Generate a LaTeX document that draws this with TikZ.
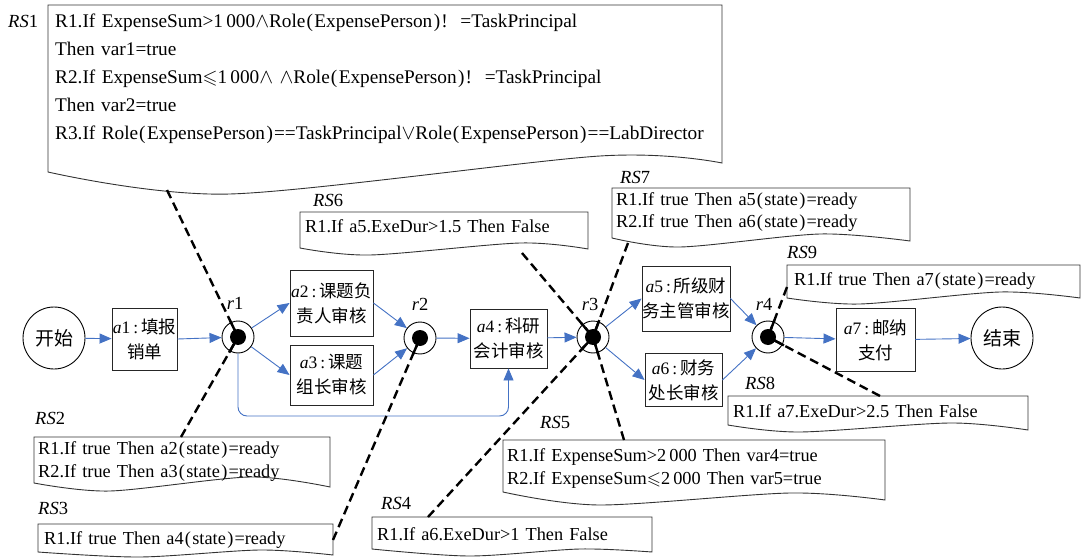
\documentclass[tikz,border=0pt]{standalone}
\usepackage{amssymb}
\usepackage{fontspec}
\setmainfont{Liberation Serif}
\newfontfamily\cjk{Noto Sans CJK SC}
\usetikzlibrary{arrows.meta,calc}
\definecolor{flowblue}{RGB}{68,114,196}
\newcommand{\lp}{\kern1pt(\kern1.5pt}
\newcommand{\rp}{\kern1.5pt)\kern1pt}
\newcommand{\zh}[1]{{\cjk #1}}
\newcommand{\wsp}{\spaceskip=0.33em plus 0.1em\relax}
\tikzset{
  rstext/.style={anchor=base west, inner sep=0pt, font=\fontsize{18.3}{23}\selectfont\wsp},
  rsbig/.style={anchor=base west, inner sep=0pt, font=\fontsize{19.3}{28}\selectfont\wsp},
  rslabel/.style={anchor=base west, inner sep=0pt, font=\fontsize{18.5}{20}\selectfont},
  rsshape/.style={draw=black!80, line width=0.9pt},
  act/.style={draw=black!85, line width=0.9pt, inner sep=0pt, align=center, font=\fontsize{17.5}{25}\selectfont},
  flow/.style={draw=flowblue, line width=0.9pt, -{Triangle[length=12pt,width=10pt]}},
  link/.style={draw=black, line width=2.4pt, dash pattern=on 9pt off 5pt},
  linkstub/.style={draw=black, line width=2.4pt},
  place/.style={circle, draw=black, fill=white, line width=0.9pt, minimum size=32pt, inner sep=0pt},
  dotmark/.style={circle, fill=black, minimum size=16pt, inner sep=0pt},
  term/.style={circle, draw=black, line width=0.9pt, minimum size=62pt, inner sep=0pt, font=\cjk\fontsize{19}{22}\selectfont},
  rlab/.style={inner sep=0pt, font=\fontsize{18.5}{20}\selectfont},
}
\begin{document}
\begin{tikzpicture}[x=1pt,y=-1pt]
\useasboundingbox (0,0) rectangle (1082,559);

% ---------- rule-set shapes ----------
\draw[rsshape] (48,5) -- (722,5) -- plot[smooth] coordinates {(722,163) (600,156) (230,194) (48,172)} -- cycle;
\draw[rsshape] (300,212) -- (588,212) -- plot[smooth] coordinates {(588,249) (520,243) (370,255) (300,248)} -- cycle;
\draw[rsshape] (612,188) -- (910,188) -- plot[smooth] coordinates {(910,241) (820,234) (680,247) (612,238)} -- cycle;
\draw[rsshape] (787,265) -- (1080,265) -- plot[smooth] coordinates {(1080,298) (1000,292) (860,304) (787,298)} -- cycle;
\draw[rsshape] (728,396) -- (1028,396) -- plot[smooth] coordinates {(1028,430) (950,423) (800,432) (728,425)} -- cycle;
\draw[rsshape] (34,437) -- (330,437) -- plot[smooth] coordinates {(330,487) (250,477) (110,491) (34,483)} -- cycle;
\draw[rsshape] (38,524) -- (333,524) -- plot[smooth] coordinates {(333,555) (260,550) (140,557) (38,552)} -- cycle;
\draw[rsshape] (372,517) -- (652,517) -- plot[smooth] coordinates {(652,552) (580,549) (470,556) (372,549)} -- cycle;
\draw[rsshape] (503,440) -- (885,440) -- plot[smooth] coordinates {(885,500) (790,493) (600,505) (503,492)} -- cycle;

% ---------- rule-set labels ----------
\node[rslabel] (l1) at (8,28) {\textit{RS}1};
\node[rslabel] (l2) at (35,424) {\textit{RS}2};
\node[rslabel] (l3) at (38,514) {\textit{RS}3};
\node[rslabel] (l4) at (381,509) {\textit{RS}4};
\node[rslabel] (l5) at (540,428) {\textit{RS}5};
\node[rslabel] (l6) at (313,206) {\textit{RS}6};
\node[rslabel] (l7) at (620,183) {\textit{RS}7};
\node[rslabel] (l8) at (745,389) {\textit{RS}8};
\node[rslabel] (l9) at (787,258) {\textit{RS}9};

% ---------- rule texts ----------
\node[rsbig] (t1a) at (55,28) {R1.If ExpenseSum>1\,000$\wedge$Role\lp ExpensePerson\rp!\ \ =TaskPrincipal};
\node[rsbig] (t1b) at (55,56) {Then var1=true};
\node[rsbig] (t1c) at (55,84) {R2.If ExpenseSum$\leqslant$1\,000$\wedge$\ $\wedge$Role\lp ExpensePerson\rp!\ \ =TaskPrincipal};
\node[rsbig] (t1d) at (55,112) {Then var2=true};
\node[rsbig] (t1e) at (55,140) {R3.If Role\lp ExpensePerson\rp==TaskPrincipal$\vee$Role\lp ExpensePerson\rp==LabDirector};
\node[rstext] (t6) at (305,233) {R1.If a5.ExeDur>1.5 Then False};
\node[rstext] (t7a) at (616,205) {R1.If true Then a5\lp state\rp=ready};
\node[rstext] (t7b) at (616,227) {R2.If true Then a6\lp state\rp=ready};
\node[rstext] (t9) at (794,285) {R1.If true Then a7\lp state\rp=ready};
\node[rstext] (t8) at (733,417) {R1.If a7.ExeDur>2.5 Then False};
\node[rstext] (t2a) at (38,454) {R1.If true Then a2\lp state\rp=ready};
\node[rstext] (t2b) at (38,477) {R2.If true Then a3\lp state\rp=ready};
\node[rstext] (t3) at (44,544) {R1.If true Then a4\lp state\rp=ready};
\node[rstext] (t4) at (377,540) {R1.If a6.ExeDur>1 Then False};
\node[rstext] (t5a) at (507,461) {R1.If ExpenseSum>2\,000 Then var4=true};
\node[rstext] (t5b) at (507,484) {R2.If ExpenseSum$\leqslant$2\,000 Then var5=true};

% ---------- process nodes ----------
\node[term] (start) at (54,338) {开始};
\node[term] (end) at (1002,338) {结束};
\node[act, minimum width=65pt, minimum height=62pt] (a1) at (144.5,339) {\textit{a}1\,:\,\zh{填报}\\\zh{销单}};
\node[act, minimum width=83pt, minimum height=66pt] (a2) at (331.5,303) {\textit{a}2\,:\,\zh{课题负}\\\zh{责人审核}};
\node[act, minimum width=83pt, minimum height=60pt] (a3) at (331.5,375) {\textit{a}3\,:\,\zh{课题}\\\zh{组长审核}};
\node[act, minimum width=77pt, minimum height=59pt] (a4) at (508.5,338.5) {\textit{a}4\,:\,\zh{科研}\\\zh{会计审核}};
\node[act, minimum width=88pt, minimum height=65pt] (a5) at (686,298.5) {\textit{a}5\,:\,\zh{所级财}\\\zh{务主管审核}};
\node[act, minimum width=77pt, minimum height=53pt] (a6) at (683.5,380) {\textit{a}6\,:\,\zh{财务}\\\zh{处长审核}};
\node[act, minimum width=79pt, minimum height=63pt] (a7) at (875.5,340) {\textit{a}7\,:\,\zh{邮纳}\\\zh{支付}};

\node[place] (r1) at (238,337) {};
\node[place] (r2) at (420,338) {};
\node[place] (r3) at (593,337) {};
\node[place] (r4) at (768,337) {};
\node[rlab] (r1l) at (235,303) {\textit{r}1};
\node[rlab] (r2l) at (420,304) {\textit{r}2};
\node[rlab] (r3l) at (590,304) {\textit{r}3};
\node[rlab] (r4l) at (764,304) {\textit{r}4};

% ---------- flows ----------
\draw[flow] (start) -- (a1);
\draw[flow] (a1.east) -- (r1);
\draw[flow] (r1) -- (a2.west);
\draw[flow] (r1) -- (a3.west);
\draw[flow] (a2.east) -- (r2);
\draw[flow] (a3.east) -- (r2);
\draw[flow, rounded corners=9pt] (r1.south) -- (r1.south |- 0,416) -- (a4.south |- 0,416) -- (a4.south);
\draw[flow] (r2) -- (a4);
\draw[flow] (a4) -- (r3);
\draw[flow] (r3) -- (a5.west);
\draw[flow] (r3) -- (a6.west);
\draw[flow] (a5.east) -- (r4);
\draw[flow] (a6.east) -- (r4);
\draw[flow] (r4) -- (a7);
\draw[flow] (a7) -- (end);

% ---------- dashed rule links ----------
\coordinate (c1) at (167,190);
\coordinate (c2) at (181,437);
\coordinate (c3) at (333,540);
\coordinate (c4) at (428,517);
\coordinate (c5) at (624,440);
\coordinate (c6) at (522,253);
\coordinate (c7) at (628,243);
\coordinate (c8) at (880,396);
\coordinate (c9) at (787,287);
\foreach \c/\r in {c1/r1,c2/r1,c3/r2,c4/r3,c5/r3,c6/r3,c7/r3,c8/r4,c9/r4}{
  \draw[link] (\c) -- (\r.center);
  \draw[linkstub] (\r.center) -- ($(\r.center)!18pt!(\c)$);
}
\node[dotmark] (d1) at (r1) {};
\node[dotmark] (d2) at (r2) {};
\node[dotmark] (d3) at (r3) {};
\node[dotmark] (d4) at (r4) {};
\end{tikzpicture}
\end{document}
